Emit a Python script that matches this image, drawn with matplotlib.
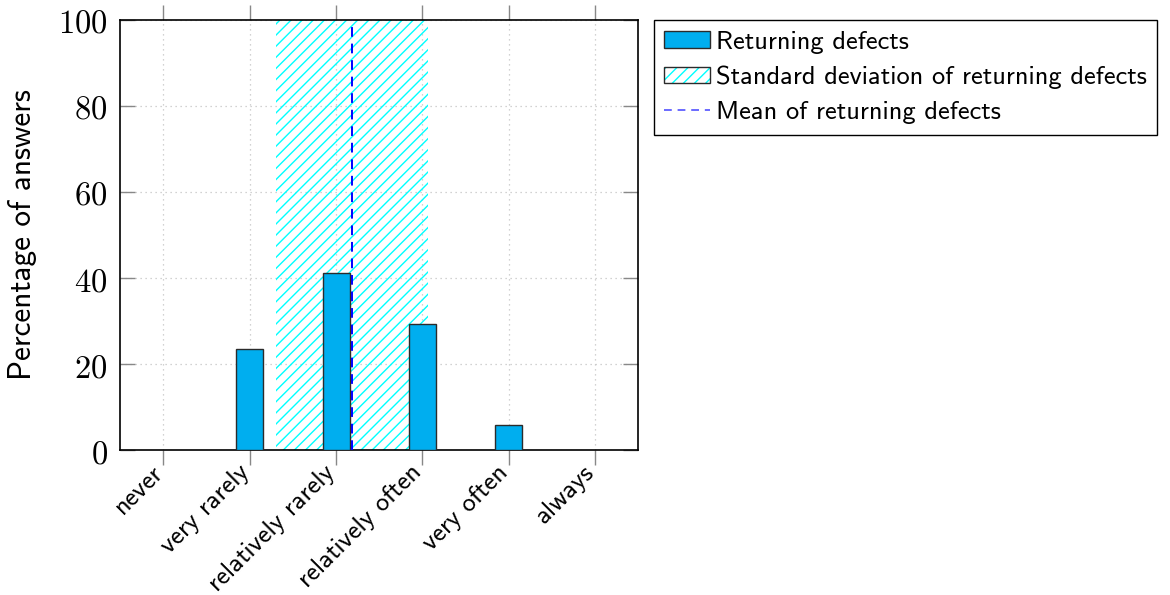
import matplotlib
matplotlib.use("Agg")
import matplotlib.pyplot as plt
from matplotlib.patches import Patch
from matplotlib.lines import Line2D
from matplotlib.legend_handler import HandlerTuple
from matplotlib.ticker import FuncFormatter

# Survey answers: how often defects come back
categories = ["never", "very rarely", "relatively rarely",
              "relatively often", "very often", "always"]
percentages = [0.0, 23.5, 41.2, 29.4, 5.9, 0.0]
mean_value = 2.18   # on the 0..5 category scale
std_value = 0.88

yticks = [0, 20, 40, 60, 80, 100]

plt.rcParams["mathtext.fontset"] = "cm"
plt.rcParams["hatch.linewidth"] = 1.0
sans = "cmss10"

fig = plt.figure(figsize=(11.70, 5.95), dpi=100)
ax = fig.add_axes([0.1028, 0.2432, 0.4428, 0.7237])

x = list(range(len(categories)))

# standard deviation band
ax.axvspan(mean_value - std_value, mean_value + std_value,
           facecolor="none", edgecolor="#00ffff", hatch="///",
           linewidth=0, zorder=1)

bars = ax.bar(x, percentages, width=0.31, color="#00aeef",
              edgecolor="#2b2b2b", linewidth=1.0, zorder=3)

ax.plot([mean_value, mean_value], [0, 100], color="#0000ff",
        linestyle=(0, (5, 3.5)), linewidth=1.4, zorder=4)

ax.set_xlim(-0.5, 5.5)
ax.set_ylim(0, 100)

# category labels, rotated and anchored just below each tick
ax.set_xticks(x)
ax.set_xticklabels([])
for xi, cat in zip(x, categories):
    ax.annotate(cat, xy=(xi, 0), xycoords=("data", "axes fraction"),
                xytext=(-3, -13.5), textcoords="offset points",
                rotation=45, ha="right", va="center",
                rotation_mode="anchor", fontsize=19, family=sans,
                annotation_clip=False)

ax.set_yticks(yticks)
ax.yaxis.set_major_formatter(FuncFormatter(lambda v, p: r"$%d$" % v))

ax.tick_params(axis="x", direction="out", length=11, width=1.0,
               color="#888888", top=True, bottom=True)
ax.tick_params(axis="y", direction="in", length=11, width=1.0,
               color="#888888", left=True, right=True, pad=9,
               labelsize=23.5)

ax.grid(True, linestyle=(0, (1, 3)), color="#c4c4c4", linewidth=0.9,
        zorder=0)
ax.set_axisbelow(True)

for s in ax.spines.values():
    s.set_color("black")
    s.set_linewidth(1.2)

ax.set_ylabel("Percentage of answers", family=sans, fontsize=22.5)
ax.yaxis.set_label_coords(-0.161, 0.5)

# legend
hatch_patch = Patch(facecolor="none", edgecolor="#00ffff", hatch="///",
                    linewidth=0)
outline_patch = Patch(facecolor="none", edgecolor="#2b2b2b", linewidth=1.0)
mean_handle = Line2D([], [], color="#6a6aff", linestyle=(0, (4, 3)),
                     linewidth=1.4)
leg = fig.legend([bars, (hatch_patch, outline_patch), mean_handle],
                 ["Returning defects",
                  "Standard deviation of returning defects",
                  "Mean of returning defects"],
                 handler_map={tuple: HandlerTuple(ndivide=1, pad=0)},
                 loc="upper left", bbox_to_anchor=(0.5587, 0.9664),
                 bbox_transform=fig.transFigure,
                 prop={"family": sans, "size": 19},
                 frameon=True, fancybox=False, edgecolor="black",
                 framealpha=1, borderpad=0.4, borderaxespad=0,
                 handlelength=1.75, handleheight=0.6,
                 handletextpad=0.2, labelspacing=0.46)
leg.get_frame().set_linewidth(1.0)

fig.savefig("out.png", dpi=100)
